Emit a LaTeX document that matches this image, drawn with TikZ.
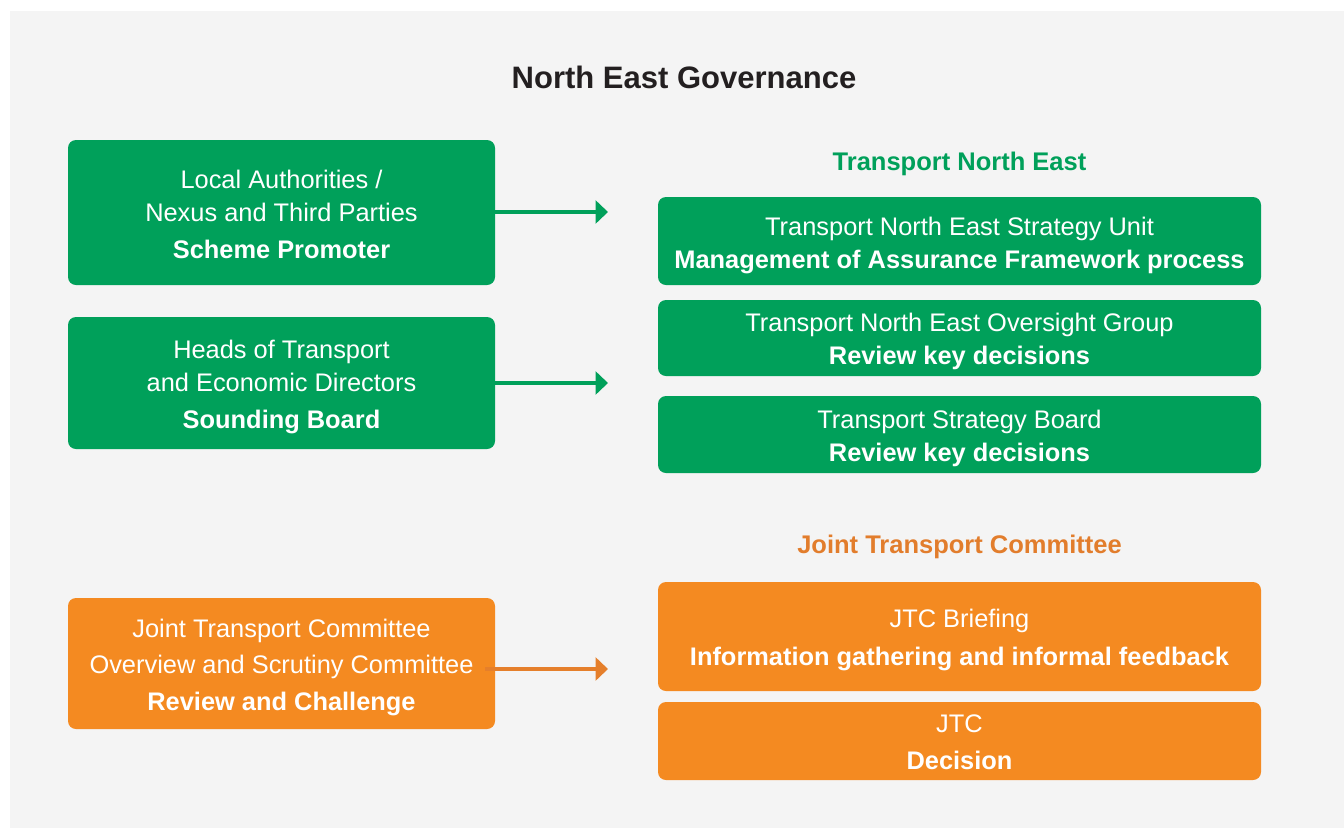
\documentclass[tikz,border=0pt]{standalone}
\usepackage{fontspec}
\setmainfont{Liberation Sans}
\usetikzlibrary{arrows.meta}
\definecolor{bggrey}{HTML}{F4F4F4}
\definecolor{tneGreen}{HTML}{00A05A}
\definecolor{jtcOrange}{HTML}{F48A21}
\definecolor{jtcArrow}{HTML}{E57F2B}
\definecolor{jtcHead}{HTML}{E27D2C}
\definecolor{titleInk}{HTML}{231F20}
\tikzset{
  box/.style={rounded corners=8pt, inner sep=0pt},
  greenbox/.style={box, fill=tneGreen},
  orangebox/.style={box, fill=jtcOrange},
  boxtext/.style={inner sep=0pt, text=white, align=center,
    font=\fontsize{25.4}{33}\selectfont},
  head/.style={font=\fontsize{25.5}{30}\selectfont\bfseries},
  flow/.style={line width=3.5pt, -{Triangle[length=12.5pt,width=23pt]}},
}
\begin{document}
\begin{tikzpicture}[x=1pt,y=-1pt]
\useasboundingbox (0,0) rectangle (1344,828);
\fill[white] (0,0) rectangle (1344,828);
\fill[bggrey] (10,11) rectangle (1344,828);

\node[font=\fontsize{31}{36}\selectfont\bfseries, text=titleInk] (title) at (684,77) {North East Governance};

% left boxes
\node[greenbox, minimum width=427pt, minimum height=145pt] (promoter) at (281.5,212.5) {};
\node[boxtext] (promoterText) at ([yshift=-1.5pt]promoter.center)
  {Local Authorities /\\ Nexus and Third Parties\\[4pt] \textbf{Scheme Promoter}};
\node[greenbox, minimum width=427pt, minimum height=132pt] (sounding) at (281.5,383) {};
\node[boxtext] (soundingText) at ([yshift=-3.5pt]sounding.center)
  {Heads of Transport\\ and Economic Directors\\[4pt] \textbf{Sounding Board}};
\node[orangebox, minimum width=427pt, minimum height=131pt] (scrutiny) at (281.5,663.5) {};
\node[boxtext, font=\fontsize{25.4}{36.5}\selectfont] (scrutinyText) at ([yshift=-3.5pt]scrutiny.center)
  {Joint Transport Committee\\ Overview and Scrutiny Committee\\ \textbf{Review and Challenge}};

% right headers
\node[head, text=tneGreen] (tnehead) at (959.5,164) {Transport North East};
\node[head, text=jtcHead] (jtchead) at (959.5,546.5) {Joint Transport Committee};

% right boxes
\node[greenbox, minimum width=603pt, minimum height=88pt] (unit) at (959.5,241) {};
\node[boxtext] (unitText) at ([yshift=-4pt]unit.center)
  {Transport North East Strategy Unit\\ \textbf{Management of Assurance Framework process}};
\node[greenbox, minimum width=603pt, minimum height=76pt] (oversight) at (959.5,338) {};
\node[boxtext] (oversightText) at ([yshift=-3.5pt]oversight.center)
  {Transport North East Oversight Group\\ \textbf{Review key decisions}};
\node[greenbox, minimum width=603pt, minimum height=77pt] (tsb) at (959.5,434.5) {};
\node[boxtext] (tsbText) at ([yshift=-3.5pt]tsb.center)
  {Transport Strategy Board\\ \textbf{Review key decisions}};
\node[orangebox, minimum width=603pt, minimum height=109pt] (briefing) at (959.5,636.5) {};
\node[boxtext, font=\fontsize{25.4}{38}\selectfont] (briefingText) at ([yshift=-3.5pt]briefing.center)
  {JTC Briefing\\ \textbf{Information gathering and informal feedback}};
\node[orangebox, minimum width=603pt, minimum height=78pt] (decision) at (959.5,741) {};
\node[boxtext, font=\fontsize{25.4}{37}\selectfont] (decisionText) at ([yshift=-1.5pt]decision.center)
  {JTC\\ \textbf{Decision}};

% arrows
\coordinate (t1) at (608,212);
\coordinate (t2) at (608,383);
\coordinate (t3) at (608,669);
\coordinate (s3) at (485,669);
\draw[flow, tneGreen] (promoter.east |- t1) -- (t1);
\draw[flow, tneGreen] (sounding.east |- t2) -- (t2);
\draw[flow, jtcArrow] (s3) -- (t3);
\end{tikzpicture}
\end{document}
